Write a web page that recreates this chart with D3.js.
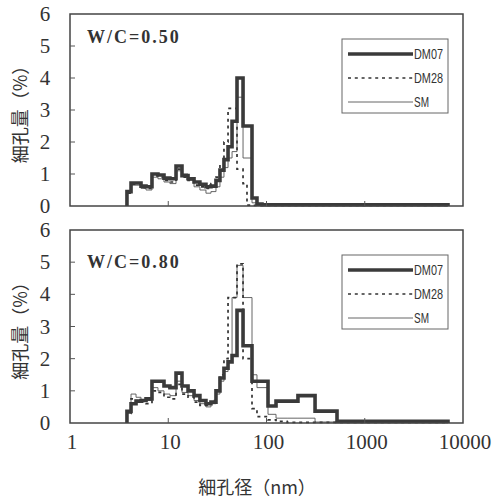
<!DOCTYPE html>
<html lang="ja">
<head>
<meta charset="utf-8">
<script src="https://cdn.jsdelivr.net/npm/d3@7"></script>
<style>
  body { margin: 0; background: #fff; }
  svg text { fill: #333; }
</style>
</head>
<body>
<div id="chart"></div>
<script>
// pore size bin edges (nm), shared by all curves
let binEdges = [3.80, 4.18, 4.70, 5.28, 5.94, 6.83, 7.86, 9.05, 10.4, 12.0, 13.8, 15.9, 18.3, 21.0,
  24.2, 27.2, 30.6, 33.6, 36.9, 40.6, 44.6, 50.1, 57.7, 63.3, 71.2, 80.0, 90.0, 103.6, 125, 162,
  209, 312, 522, 7035];

// W/C = 0.50
let dm07_50 = [0.45, 0.72, 0.72, 0.62, 0.60, 1.00, 0.97, 0.87, 0.85, 1.25, 0.95, 0.85, 0.75, 0.68,
  0.60, 0.62, 0.80, 1.12, 1.45, 1.85, 2.65, 4.00, 2.50, 2.50, 0.25, 0.06, 0.04, 0.04, 0.04, 0.04,
  0.04, 0.04, 0.04];
let dm28_50 = [0.40, 0.68, 0.68, 0.58, 0.55, 0.95, 0.90, 0.80, 0.75, 1.15, 0.90, 0.80, 0.65, 0.60,
  0.55, 0.70, 0.90, 1.30, 2.00, 3.05, 3.05, 1.15, 0.70, 0.03, 0.02, 0.02, 0.02, 0.02, 0.02, 0.02,
  0.02, 0.02, 0.02];
let sm_50 = [0.40, 0.65, 0.65, 0.55, 0.50, 0.90, 0.85, 0.75, 0.70, 1.10, 1.00, 0.80, 0.60, 0.50,
  0.40, 0.45, 0.60, 0.90, 1.20, 1.50, 1.70, 3.40, 1.50, 1.50, 0.10, 0.03, 0.02, 0.02, 0.02, 0.02,
  0.02, 0.02, 0.02];

// W/C = 0.80
let dm07_80 = [0.36, 0.60, 0.68, 0.70, 0.75, 1.30, 1.30, 1.15, 1.10, 1.55, 1.15, 1.00, 0.85, 0.70,
  0.60, 0.65, 1.00, 1.40, 1.70, 1.90, 2.10, 3.50, 2.40, 2.40, 1.30, 1.30, 1.30, 0.53, 0.68, 0.68,
  0.85, 0.37, 0.05];
let dm28_80 = [0.30, 0.75, 0.70, 0.65, 0.60, 1.00, 0.95, 0.80, 0.75, 1.20, 0.90, 0.80, 0.65, 0.55,
  0.55, 0.70, 1.00, 1.50, 2.00, 3.90, 3.90, 4.95, 2.00, 2.00, 0.45, 0.20, 0.20, 0.10, 0.05, 0.02,
  0.02, 0.02, 0.02];
let sm_80 = [0.30, 0.90, 0.80, 0.70, 0.70, 1.10, 1.00, 0.90, 0.85, 1.30, 0.95, 0.85, 0.70, 0.60,
  0.50, 0.60, 0.90, 1.30, 1.60, 1.90, 3.90, 4.90, 3.90, 3.90, 1.50, 1.10, 1.10, 0.27, 0.15, 0.15,
  0.15, 0.03, 0.02];

let xTicks = [1, 10, 100, 1000, 10000];
let yTicks = [0, 1, 2, 3, 4, 5, 6];
let seriesNames = ["DM07", "DM28", "SM"];

let panels = [
  { title: "W/C=0.50", top: 14, bottom: 206, data: [dm07_50, dm28_50, sm_50] },
  { title: "W/C=0.80", top: 230, bottom: 423, data: [dm07_80, dm28_80, sm_80] }
];

let styles = [
  { width: 3.6, dash: null, color: "#3a3a3a" },
  { width: 1.7, dash: "3,3.8", color: "#333" },
  { width: 0.9, dash: null, color: "#555" }
];

let W = 495, H = 501;
let svg = d3.select("#chart").append("svg")
  .attr("width", W)
  .attr("height", H);

let x = d3.scaleLog().domain([1, 10000]).range([70, 463]);

let serif = "'Liberation Serif', 'DejaVu Serif', serif";
let cjk = "'Noto Sans CJK JP', sans-serif";

panels.forEach(function(p, pi) {
  let y = d3.scaleLinear().domain([0, 6]).range([p.bottom, p.top]);
  let g = svg.append("g");

  let line = d3.line()
    .x(function(d) { return x(d[0]); })
    .y(function(d) { return y(d[1]); })
    .curve(d3.curveStepAfter);

  // draw SM first, then DM28, DM07 on top
  [2, 1, 0].forEach(function(si) {
    let vals = p.data[si];
    let pts = [[binEdges[0], 0]];
    vals.forEach(function(v, i) { pts.push([binEdges[i], v]); });
    pts.push([binEdges[binEdges.length - 1], vals[vals.length - 1]]);
    pts.push([binEdges[binEdges.length - 1], 0]);
    g.append("path")
      .attr("d", line(pts))
      .attr("fill", "none")
      .attr("stroke", styles[si].color)
      .attr("stroke-width", styles[si].width)
      .attr("stroke-dasharray", styles[si].dash)
      .attr("stroke-linejoin", "miter");
  });

  // frame
  g.append("rect")
    .attr("x", x.range()[0]).attr("y", p.top)
    .attr("width", x.range()[1] - x.range()[0])
    .attr("height", p.bottom - p.top)
    .attr("fill", "none")
    .attr("stroke", "#444")
    .attr("stroke-width", 1.5);

  // inner ticks
  yTicks.slice(1, -1).forEach(function(t) {
    g.append("line")
      .attr("x1", x.range()[0]).attr("x2", x.range()[0] + 5)
      .attr("y1", y(t)).attr("y2", y(t))
      .attr("stroke", "#555").attr("stroke-width", 1);
  });
  xTicks.slice(1, -1).forEach(function(t) {
    g.append("line")
      .attr("x1", x(t)).attr("x2", x(t))
      .attr("y1", p.bottom).attr("y2", p.bottom - 5)
      .attr("stroke", "#555").attr("stroke-width", 1);
  });

  // y tick labels
  g.selectAll(".ylab").data(yTicks).enter().append("text")
    .attr("x", 45)
    .attr("y", function(d) { return y(d) + 7; })
    .attr("text-anchor", "middle")
    .attr("font-family", serif)
    .attr("font-size", 21)
    .text(function(d) { return d; });

  // y axis title
  let cy = (p.top + p.bottom) / 2;
  g.append("text")
    .attr("transform", "translate(27," + cy + ") rotate(-90)")
    .attr("text-anchor", "middle")
    .attr("font-family", cjk)
    .attr("font-size", 18)
    .attr("fill", "#333")
    .style("fill", "#333")
    .text("細孔量（%）");

  // panel title
  g.append("text")
    .attr("x", 87)
    .attr("y", p.top + (pi === 0 ? 29 : 38))
    .attr("font-family", serif)
    .attr("font-size", 18)
    .attr("font-weight", "bold")
    .attr("letter-spacing", 2)
    .text(p.title);

  // legend
  let lx = 342, ly = p.top + 25;
  g.append("rect")
    .attr("x", lx).attr("y", ly)
    .attr("width", 106).attr("height", 74)
    .attr("fill", "#fff")
    .attr("stroke", "#666")
    .attr("stroke-width", 1);
  seriesNames.forEach(function(name, i) {
    let yy = ly + 15 + i * 24;
    g.append("line")
      .attr("x1", lx + 6).attr("x2", lx + 71)
      .attr("y1", yy).attr("y2", yy)
      .attr("stroke", styles[i].color)
      .attr("stroke-width", styles[i].width)
      .attr("stroke-dasharray", styles[i].dash);
    g.append("text")
      .attr("x", lx + 72)
      .attr("y", yy + 5)
      .attr("font-family", "'Liberation Sans', sans-serif")
      .attr("font-size", 14)
      .attr("textLength", name.length === 4 ? 29 : 15)
      .attr("lengthAdjust", "spacingAndGlyphs")
      .text(name);
  });
});

// x tick labels under lower panel
svg.selectAll(".xlab").data(xTicks).enter().append("text")
  .attr("x", function(d) { return x(d) + 2; })
  .attr("y", 449)
  .attr("text-anchor", "middle")
  .attr("font-family", serif)
  .attr("font-size", 21)
  .text(function(d) { return d; });

svg.append("text")
  .attr("x", 257)
  .attr("y", 494)
  .attr("text-anchor", "middle")
  .attr("font-family", cjk)
  .attr("font-size", 18)
  .text("細孔径（nm）");
</script>
</body>
</html>
